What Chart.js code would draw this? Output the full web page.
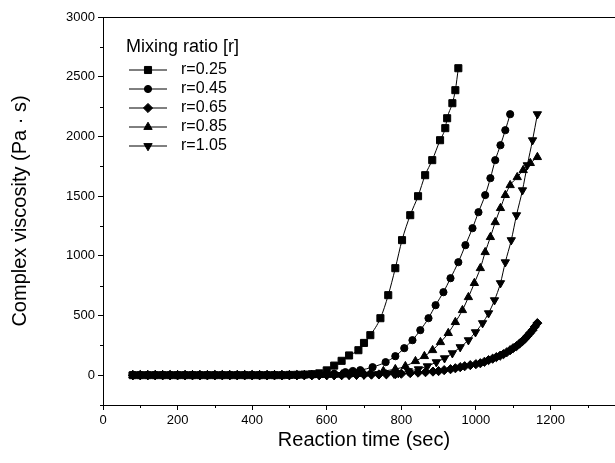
<!DOCTYPE html>
<html>
<head>
<meta charset="utf-8">
<script src="https://cdn.jsdelivr.net/npm/chart.js"></script>
<style>
  html, body { margin: 0; padding: 0; background: #fff; overflow: hidden; }
  #wrap { width: 640px; height: 463px; }
</style>
</head>
<body>
<div id="wrap"><canvas id="c"></canvas></div>
<script>
// reaction time (sec) and complex viscosity (Pa·s)
const t025 = [80,100,120,140,160,180,200,220,240,260,280,300,320,340,360,380,400,420,440,460,480,500,520,540,560,
  580,600,620,640,660,685,700,717,744,765,784,802,824,845,864,883,904,918,923,937,945,953];
const v025 = [0,0,0,0,0,0,0,0,0,0,0,0,0,0,0,0,0,0,0,0,0,2,3,5,8,
  15,40,80,120,165,209,270,335,477,670,896,1131,1340,1499,1675,1801,1968,2069,2152,2278,2387,2571];

const t045 = [80,100,120,140,160,180,200,220,240,260,280,300,320,340,360,380,400,420,440,460,480,500,520,540,560,580,600,620,
  650,670,690,723,758,784,808,830,851,873,892,913,932,953,972,991,1007,1025,1039,1052,1066,1079,1092];
const v045 = [0,0,0,0,0,0,0,0,0,0,0,0,0,0,0,0,0,0,0,0,0,0,0,2,3,5,8,12,
  25,35,42,67,109,159,226,293,377,477,586,695,812,946,1089,1231,1365,1508,1650,1801,1926,2052,2186];

const t065 = [80,100,120,140,160,180,200,220,240,260,280,300,320,340,360,380,400,420,440,460,480,500,520,540,560,580,600,620,640,660,680,700,720,740,760,
  784,800,824,845,865,885,900,915,932,945,958,970,985,1000,1012,1023,1034,1045,1055,1065,1074,1083,1092,1100,1109,1117,1125,1132,1138,1145,1152,1158,1165];
const v065 = [0,0,0,0,0,0,0,0,0,0,0,0,0,0,0,0,0,0,0,0,0,0,0,0,0,0,0,0,0,2,3,4,5,6,7,
  8,12,17,21,25,30,34,42,50,58,67,75,84,92,100,112,126,138,151,163,176,192,209,226,243,264,285,306,327,352,377,405,436];

const t085 = [80,100,120,140,160,180,200,220,240,260,280,300,320,340,360,380,400,420,440,460,480,500,520,540,560,580,600,620,640,660,680,700,
  717,752,784,811,838,862,884,905,926,945,964,980,996,1012,1025,1039,1052,1066,1079,1092,1111,1127,1146,1165];
const v085 = [0,0,0,0,0,0,0,0,0,0,0,0,0,0,0,0,0,0,0,0,0,0,0,0,0,0,2,3,5,7,9,12,
  17,34,50,75,117,159,209,276,352,444,544,653,771,896,1030,1156,1281,1399,1508,1591,1658,1717,1776,1826];

const t105 = [80,100,120,140,160,180,200,220,240,260,280,300,320,340,360,380,400,420,440,460,480,500,520,540,560,580,600,620,640,660,680,700,720,740,760,780,
  792,819,846,870,894,916,937,958,980,999,1018,1034,1050,1066,1079,1095,1109,1125,1138,1152,1165];
const v105 = [0,0,0,0,0,0,0,0,0,0,0,0,0,0,0,0,0,0,0,0,0,0,0,0,0,0,0,0,2,3,4,5,7,9,11,14,
  17,34,50,75,109,142,184,235,293,360,436,519,628,771,946,1131,1340,1549,1759,1968,2186];

const seriesLabels = ['r=0.25', 'r=0.45', 'r=0.65', 'r=0.85', 'r=1.05'];
const seriesTimes = [t025, t045, t065, t085, t105];
const seriesValues = [v025, v045, v065, v085, v105];

const xTicks = [0, 200, 400, 600, 800, 1000, 1200];
const yTicks = [0, 500, 1000, 1500, 2000, 2500, 3000];

const markers = [
  { style: 'rect', radius: 5, rotation: 0 },
  { style: 'circle', radius: 3.6, rotation: 0 },
  { style: 'rectRot', radius: 4.6, rotation: 0 },
  { style: 'triangle', radius: 4.8, rotation: 0 },
  { style: 'triangle', radius: 4.8, rotation: 180 }
];

const FONT = '"Liberation Sans", Arial, sans-serif';

const datasets = seriesLabels.map((lab, i) => ({
  label: lab,
  data: seriesTimes[i].map((t, j) => ({ x: t, y: seriesValues[i][j] })),
  borderColor: '#000',
  borderWidth: 1,
  backgroundColor: '#000',
  pointStyle: markers[i].style,
  pointRadius: markers[i].radius,
  pointRotation: markers[i].rotation,
  pointBackgroundColor: '#000',
  pointBorderColor: '#000',
  pointBorderWidth: 1,
  tension: 0.2,
  cubicInterpolationMode: 'monotone'
}));

function drawMarker(ctx, m, x, y) {
  const r = m.radius;
  ctx.beginPath();
  if (m.style === 'rect') {
    const s = r * Math.SQRT1_2;
    ctx.rect(x - s, y - s, 2 * s, 2 * s);
  } else if (m.style === 'circle') {
    ctx.arc(x, y, r, 0, Math.PI * 2);
  } else if (m.style === 'rectRot') {
    ctx.moveTo(x, y - r); ctx.lineTo(x + r, y); ctx.lineTo(x, y + r); ctx.lineTo(x - r, y);
  } else {
    const d = m.rotation ? -1 : 1;
    ctx.moveTo(x, y - d * r);
    ctx.lineTo(x + r * 0.866, y + d * r * 0.5);
    ctx.lineTo(x - r * 0.866, y + d * r * 0.5);
  }
  ctx.closePath();
  ctx.fill();
  ctx.stroke();
}

// only labelled ticks get the long tick mark, the others are drawn short below
const majorTick = list => c => list.includes(c.tick && c.tick.value) ? '#000' : 'rgba(0,0,0,0)';

const framePlugin = {
  id: 'frame',
  afterDraw(chart) {
    const { ctx, chartArea: a, scales } = chart;
    ctx.save();
    ctx.strokeStyle = '#000';
    ctx.lineWidth = 1;
    ctx.beginPath();
    ctx.moveTo(a.left, a.top + 0.5);
    ctx.lineTo(a.right, a.top + 0.5);
    ctx.lineTo(a.right, a.bottom);
    ctx.stroke();

    // short minor ticks
    ctx.beginPath();
    scales.x.ticks.forEach(t => {
      if (xTicks.includes(t.value)) return;
      const x = Math.round(scales.x.getPixelForValue(t.value)) + 0.5;
      ctx.moveTo(x, a.bottom);
      ctx.lineTo(x, a.bottom + 3);
    });
    scales.y.ticks.forEach(t => {
      if (yTicks.includes(t.value)) return;
      const y = Math.round(scales.y.getPixelForValue(t.value)) + 0.5;
      ctx.moveTo(a.left, y);
      ctx.lineTo(a.left - 3, y);
    });
    ctx.stroke();

    // legend box inside the plot
    ctx.fillStyle = '#000';
    ctx.textBaseline = 'middle';
    ctx.textAlign = 'left';
    ctx.font = '18px ' + FONT;
    ctx.fillText('Mixing ratio [r]', 126, 47);
    ctx.font = '16px ' + FONT;
    seriesLabels.forEach((lab, i) => {
      const y = 70 + i * 19;
      ctx.beginPath();
      ctx.moveTo(129, y);
      ctx.lineTo(167, y);
      ctx.stroke();
      drawMarker(ctx, markers[i], 148, y);
      ctx.fillText(lab, 181, y);
    });
    ctx.restore();
  }
};

new Chart(document.getElementById('c'), {
  type: 'line',
  data: { datasets },
  options: {
    responsive: true,
    maintainAspectRatio: false,
    animation: false,
    layout: { padding: { top: 17, right: 15, left: 0, bottom: 0 } },
    plugins: { legend: { display: false }, tooltip: { enabled: false } },
    scales: {
      x: {
        type: 'linear',
        min: 0,
        max: 1400,
        afterFit(s) { s.height = 58; },
        border: { display: true, color: '#000', width: 1 },
        grid: { drawOnChartArea: false, drawTicks: true, tickLength: 5, color: '#000', tickColor: majorTick(xTicks) },
        ticks: {
          stepSize: 100,
          autoSkip: false,
          maxRotation: 0,
          color: '#000',
          padding: 3,
          font: { family: FONT, size: 13 },
          callback: v => xTicks.includes(v) ? String(v) : ''
        },
        title: {
          display: true,
          text: 'Reaction time (sec)',
          color: '#000',
          font: { family: FONT, size: 20 },
          padding: { top: 2, bottom: 11 }
        }
      },
      y: {
        type: 'linear',
        min: -250,
        max: 3000,
        afterFit(s) { s.width = 103; },
        border: { display: true, color: '#000', width: 1 },
        grid: { drawOnChartArea: false, drawTicks: true, tickLength: 5, color: '#000', tickColor: majorTick(yTicks) },
        ticks: {
          stepSize: 250,
          autoSkip: false,
          color: '#000',
          padding: 3,
          font: { family: FONT, size: 13 },
          callback: v => yTicks.includes(v) ? String(v) : ''
        },
        title: {
          display: true,
          text: 'Complex viscosity (Pa · s)',
          color: '#000',
          font: { family: FONT, size: 20 },
          padding: { top: 8, bottom: 0 }
        }
      }
    }
  },
  plugins: [framePlugin]
});
</script>
</body>
</html>
